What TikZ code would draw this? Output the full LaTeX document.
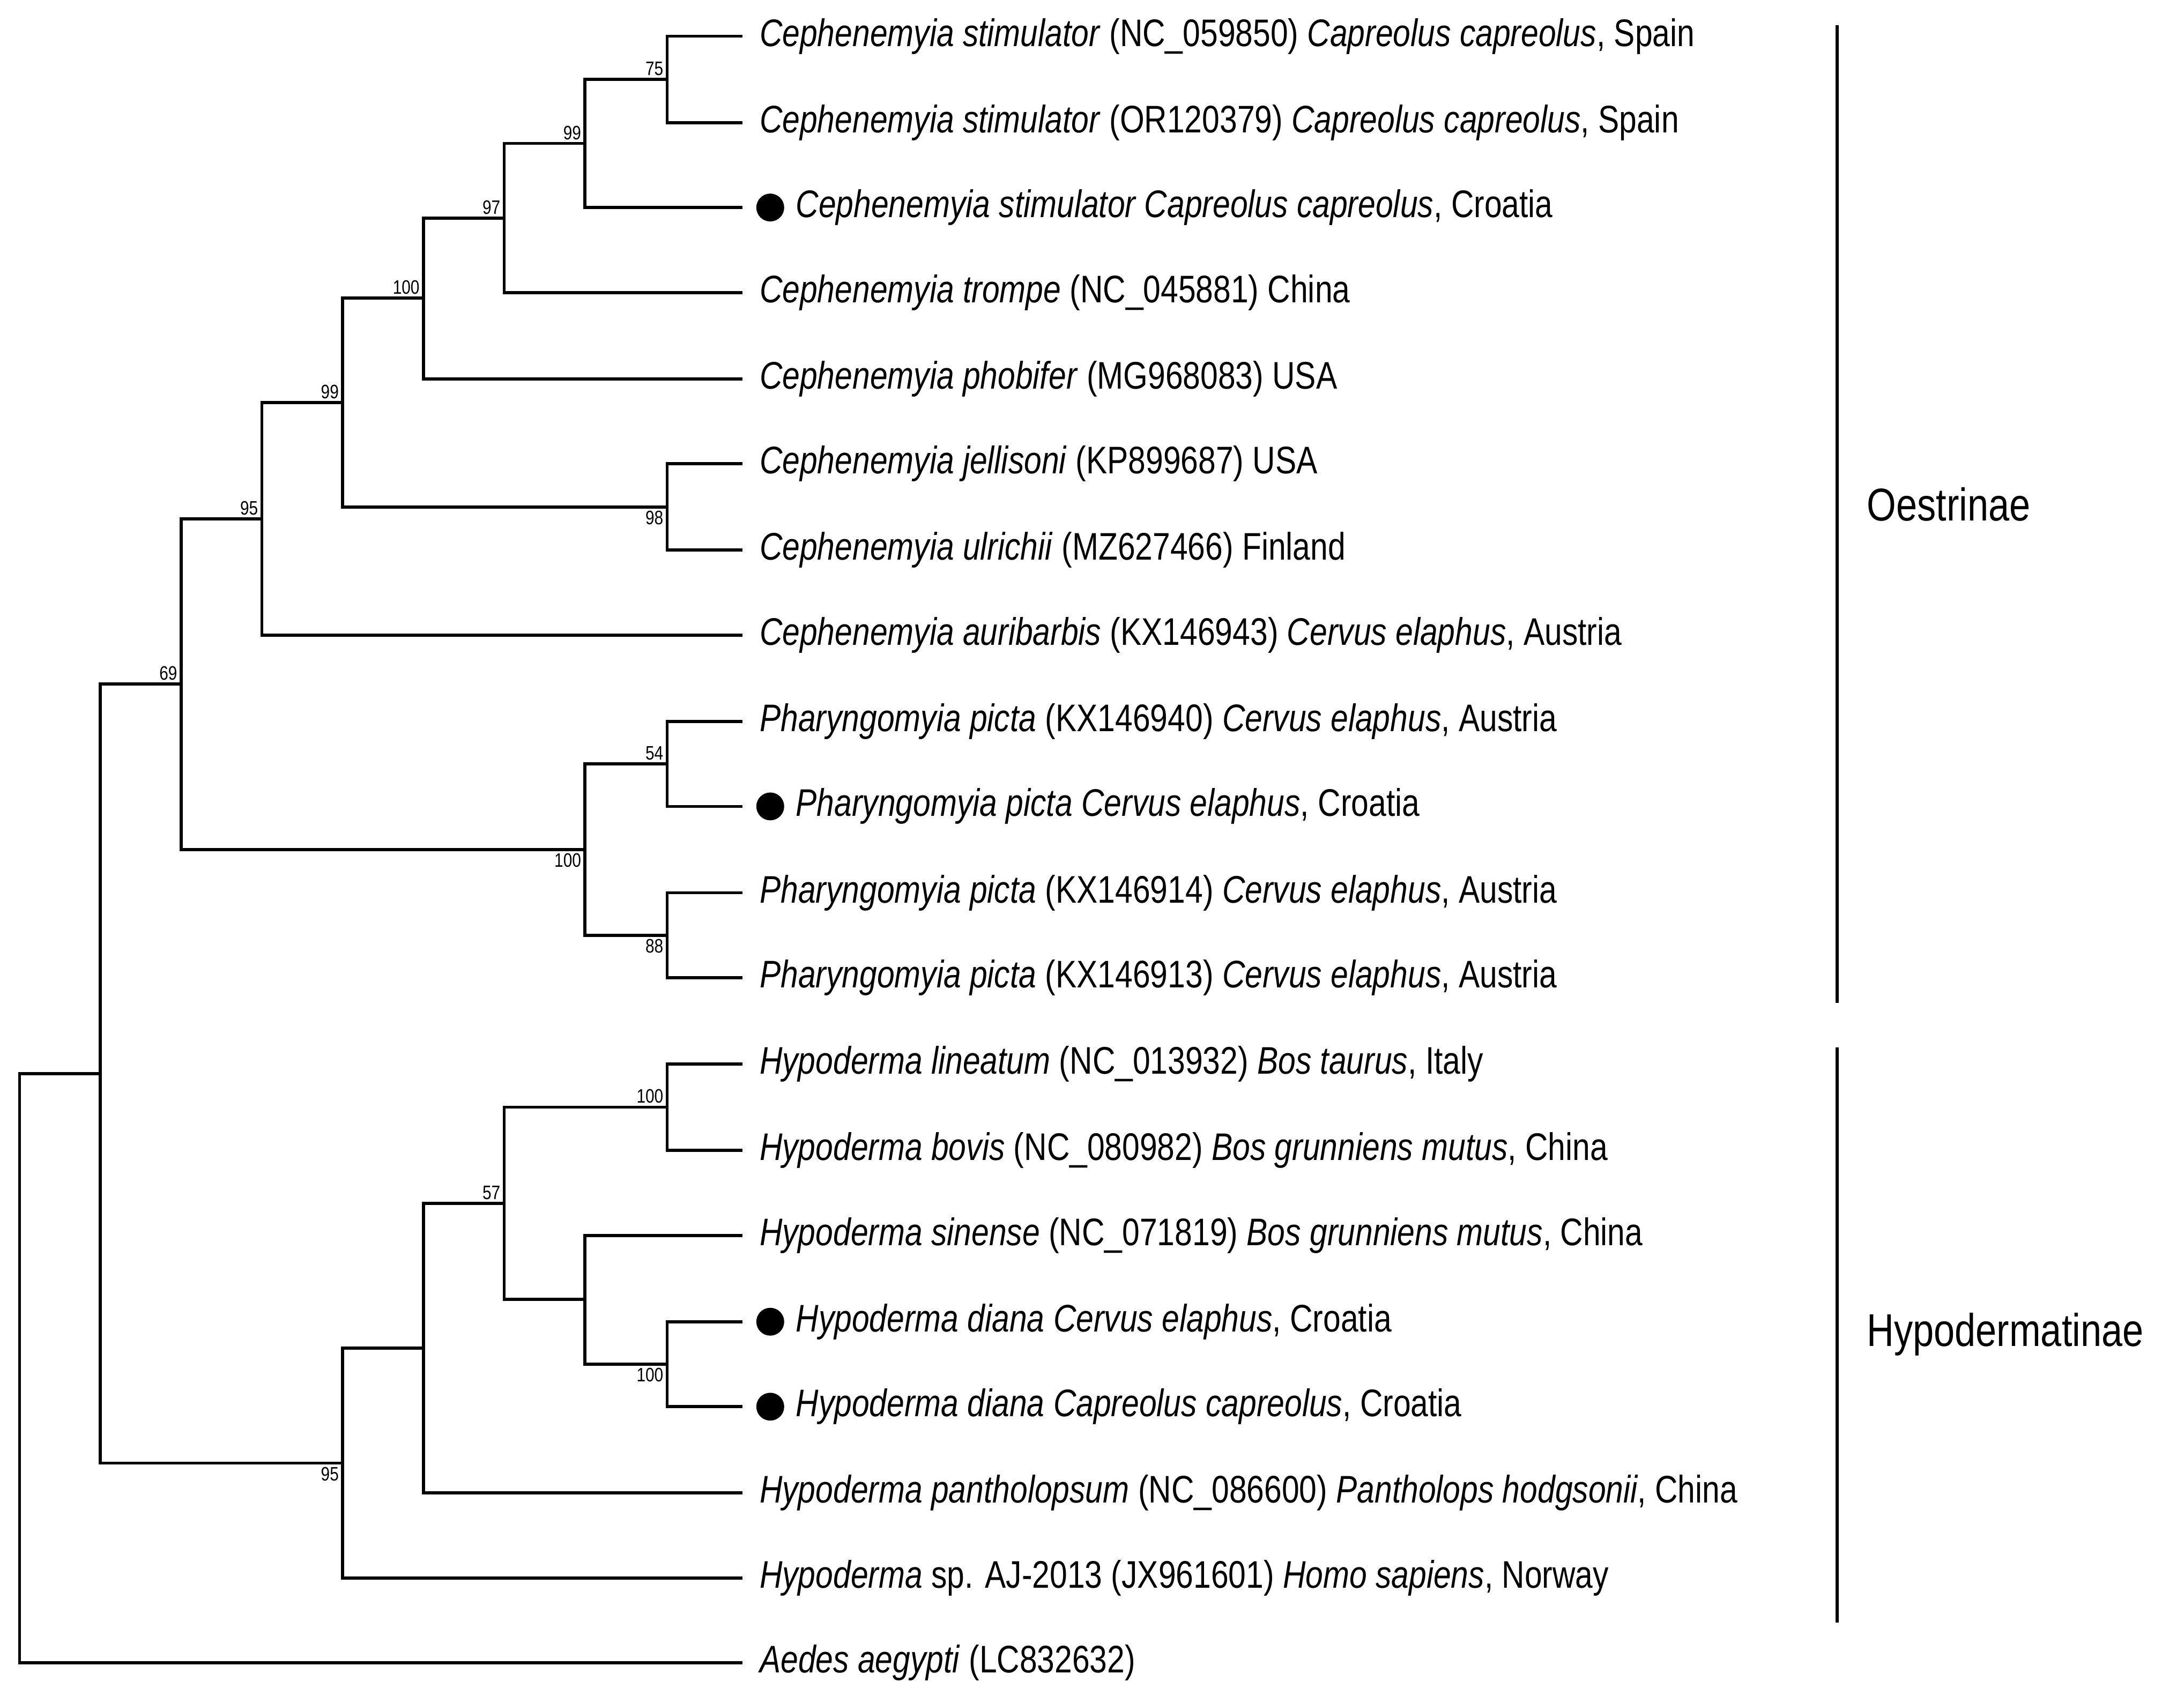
\documentclass[tikz,border=0pt]{standalone}
\usepackage{fontspec}
\setmainfont[FakeStretch=0.82]{Liberation Sans}
\begin{document}
\begin{tikzpicture}[x=0.5pt,y=-0.5pt,
  br/.style={line width=1.1pt},
  lab/.style={anchor=west,inner sep=0pt,font=\fontsize{13.8}{14}\selectfont},
  bs/.style={inner sep=1.2pt,font=\fontsize{7}{8}\selectfont},
  up/.style={bs,anchor=south east},
  dn/.style={bs,anchor=north east},
  clade/.style={anchor=west,inner sep=0pt,font=\fontsize{16.5}{18}\selectfont},
  dot/.style={circle,fill=black,inner sep=0pt,minimum size=10pt}]
\useasboundingbox (0,0) rectangle (1568,1217.5);
% leaves
\foreach \i/\y in {1/26,2/88,3/149,4/210,5/272,6/333,7/395,8/456,9/518,10/579,11/641,12/702,13/764,14/826,15/887,16/949,17/1010,18/1072,19/1133,20/1194}
  \coordinate (l\i) at (533,\y);
% internal nodes
\coordinate (a) at (479,57);
\coordinate (b) at (420,103);
\coordinate (c) at (362,156.5);
\coordinate (d) at (304,214);
\coordinate (e) at (479,364);
\coordinate (f) at (246,289);
\coordinate (g) at (188,372.5);
\coordinate (h) at (479,548.5);
\coordinate (i) at (479,671.5);
\coordinate (j) at (420,610);
\coordinate (k) at (130,491);
\coordinate (m) at (479,795);
\coordinate (n) at (479,979.5);
\coordinate (o) at (420,933);
\coordinate (p) at (362,864);
\coordinate (q) at (304,968);
\coordinate (r) at (246,1050.5);
\coordinate (s) at (72,770.8);
\coordinate (t) at (14,982.4);
\begin{scope}[br]
\draw (a) |- (l1); \draw (a) |- (l2);
\draw (b) |- (a); \draw (b) |- (l3);
\draw (c) |- (b); \draw (c) |- (l4);
\draw (d) |- (c); \draw (d) |- (l5);
\draw (e) |- (l6); \draw (e) |- (l7);
\draw (f) |- (d); \draw (f) |- (e);
\draw (g) |- (f); \draw (g) |- (l8);
\draw (h) |- (l9); \draw (h) |- (l10);
\draw (i) |- (l11); \draw (i) |- (l12);
\draw (j) |- (h); \draw (j) |- (i);
\draw (k) |- (g); \draw (k) |- (j);
\draw (m) |- (l13); \draw (m) |- (l14);
\draw (n) |- (l16); \draw (n) |- (l17);
\draw (o) |- (l15); \draw (o) |- (n);
\draw (p) |- (m); \draw (p) |- (o);
\draw (q) |- (p); \draw (q) |- (l18);
\draw (r) |- (q); \draw (r) |- (l19);
\draw (s) |- (k); \draw (s) |- (r);
\draw (t) |- (s); \draw (t) |- (l20);
\end{scope}
% bootstrap (on the branch leading to each node)
\node[up] at (a) {75};
\node[up] at (b) {99};
\node[up] at (c) {97};
\node[up] at (d) {100};
\node[up] at (f) {99};
\node[up] at (g) {95};
\node[dn] at (e) {98};
\node[up] at (k) {69};
\node[up] at (h) {54};
\node[dn] at (j) {100};
\node[dn] at (i) {88};
\node[up] at (m) {100};
\node[up] at (p) {57};
\node[dn] at (n) {100};
\node[dn] at (r) {95};
% labels
\node[lab] (t1) at (545,26) {\textit{Cephenemyia stimulator} (NC\_059850) \textit{Capreolus capreolus}, Spain};
\node[lab] (t2) at (545,88) {\textit{Cephenemyia stimulator} (OR120379) \textit{Capreolus capreolus}, Spain};
\node[dot] (d3) at (553,149) {};
\node[lab] (t3) at (571,149) {\textit{Cephenemyia stimulator Capreolus capreolus}, Croatia};
\node[lab] (t4) at (545,210) {\textit{Cephenemyia trompe} (NC\_045881) China};
\node[lab] (t5) at (545,272) {\textit{Cephenemyia phobifer} (MG968083) USA};
\node[lab] (t6) at (545,333) {\textit{Cephenemyia jellisoni} (KP899687) USA};
\node[lab] (t7) at (545,395) {\textit{Cephenemyia ulrichii} (MZ627466) Finland};
\node[lab] (t8) at (545,456) {\textit{Cephenemyia auribarbis} (KX146943) \textit{Cervus elaphus}, Austria};
\node[lab] (t9) at (545,518) {\textit{Pharyngomyia picta} (KX146940) \textit{Cervus elaphus}, Austria};
\node[dot] (d10) at (553,579) {};
\node[lab] (t10) at (571,579) {\textit{Pharyngomyia picta Cervus elaphus}, Croatia};
\node[lab] (t11) at (545,641) {\textit{Pharyngomyia picta} (KX146914) \textit{Cervus elaphus}, Austria};
\node[lab] (t12) at (545,702) {\textit{Pharyngomyia picta} (KX146913) \textit{Cervus elaphus}, Austria};
\node[lab] (t13) at (545,764) {\textit{Hypoderma lineatum} (NC\_013932) \textit{Bos taurus}, Italy};
\node[lab] (t14) at (545,826) {\textit{Hypoderma bovis} (NC\_080982) \textit{Bos grunniens mutus}, China};
\node[lab] (t15) at (545,887) {\textit{Hypoderma sinense} (NC\_071819) \textit{Bos grunniens mutus}, China};
\node[dot] (d16) at (553,949) {};
\node[lab] (t16) at (571,949) {\textit{Hypoderma diana Cervus elaphus}, Croatia};
\node[dot] (d17) at (553,1010) {};
\node[lab] (t17) at (571,1010) {\textit{Hypoderma diana Capreolus capreolus}, Croatia};
\node[lab] (t18) at (545,1072) {\textit{Hypoderma pantholopsum} (NC\_086600) \textit{Pantholops hodgsonii}, China};
\node[lab] (t19) at (545,1133) {\textit{Hypoderma} sp. AJ-2013 (JX961601) \textit{Homo sapiens}, Norway};
\node[lab] (t20) at (545,1194) {\textit{Aedes aegypti} (LC832632)};
% clades
\coordinate (o1) at (1319,18); \coordinate (o2) at (1319,720);
\coordinate (h1) at (1319,752); \coordinate (h2) at (1319,1165);
\draw[br] (o1) -- (o2);
\draw[br] (h1) -- (h2);
\node[clade] (co) at (1340,362) {Oestrinae};
\node[clade] (ch) at (1340,958) {Hypodermatinae};
\end{tikzpicture}
\end{document}
